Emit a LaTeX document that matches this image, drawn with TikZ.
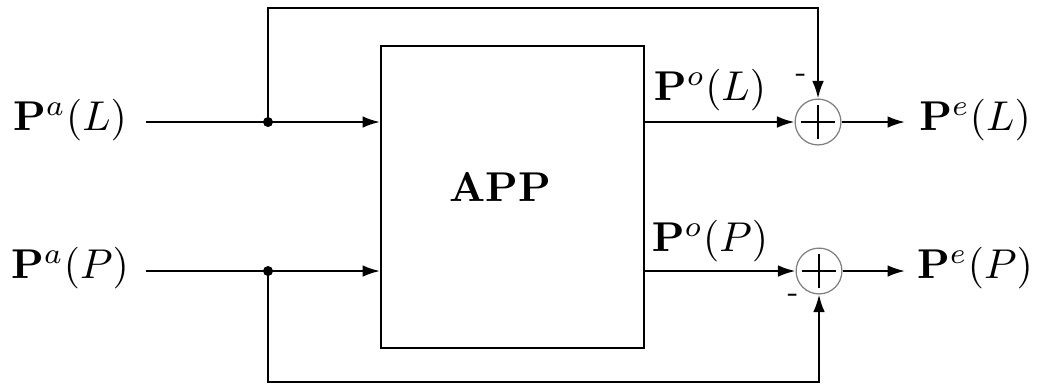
\documentclass[tikz,border=0pt]{standalone}
\usetikzlibrary{arrows.meta}
\begin{document}
\begin{tikzpicture}[x=0.24pt,y=-0.24pt, line width=0.5pt,
  arr/.style={-{Latex[length=4.2pt,width=2.8pt]}},
  sumnode/.style={circle, draw=gray, line width=0.3pt, minimum size=11pt, inner sep=0pt},
  lbl/.style={inner sep=0pt},
  minus/.style={inner sep=0pt, font=\scriptsize}]
\useasboundingbox (0,0) rectangle (1039,386);
% main block
\node[draw, line width=0.5pt, minimum width=63.1pt, minimum height=72.5pt, anchor=north west, inner sep=0pt] (app) at (380,45) {};
\node[lbl] (apptext) at (500,187) {\textbf{APP}};
% summing junctions
\node[sumnode] (s1) at (818,122) {};
\node[sumnode] (s2) at (819,271) {};
\foreach \s in {s1,s2}{
  \draw[line width=0.4pt] ([xshift=-4.1pt]\s.center) -- ([xshift=4.1pt]\s.center);
  \draw[line width=0.4pt] ([yshift=-4.1pt]\s.center) -- ([yshift=4.1pt]\s.center);
}
% labels
\node[lbl] (la) at (70,120) {$\mathbf{P}^a(L)$};
\node[lbl] (lp) at (70,268) {$\mathbf{P}^a(P)$};
\node[lbl] (ol) at (710,90) {$\mathbf{P}^o(L)$};
\node[lbl] (op) at (710,241) {$\mathbf{P}^o(P)$};
\node[lbl] (el) at (975,120) {$\mathbf{P}^e(L)$};
\node[lbl] (ep) at (975,268) {$\mathbf{P}^e(P)$};
\node[minus] (m1) at (801,78) {-};
\node[minus] (m2) at (793,298) {-};
% coordinates
\coordinate (i1) at (146,122);
\coordinate (i2) at (146,271);
\coordinate (j1) at (268,122);
\coordinate (j2) at (268,271);
\coordinate (t1) at (268,8);
\coordinate (b1) at (268,382);
\coordinate (o1) at (905,122);
\coordinate (o2) at (905,271);
% connectors
\draw (i1) -- (j1);
\draw (i2) -- (j2);
\fill (j1) circle (1.2pt);
\fill (j2) circle (1.2pt);
\draw[arr] (j1) -- (app.west |- j1);
\draw[arr] (j2) -- (app.west |- j2);
\draw[arr] (j1) -- (t1) -| (s1.north);
\draw[arr] (j2) -- (b1) -| (s2.south);
\draw[arr] (app.east |- s1) -- (s1.west);
\draw[arr] (app.east |- s2) -- (s2.west);
\draw[arr] (s1.east) -- (o1);
\draw[arr] (s2.east) -- (o2);
\end{tikzpicture}
\end{document}
